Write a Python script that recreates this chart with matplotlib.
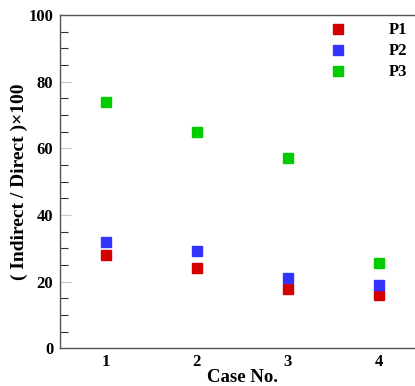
import matplotlib
matplotlib.use("Agg")
import matplotlib.pyplot as plt
from matplotlib.ticker import MultipleLocator

plt.rcParams['font.family'] = ['Liberation Serif', 'DejaVu Serif']
plt.rcParams['font.weight'] = 'bold'

cases = [1, 2, 3, 4]
p1 = [28.0, 24.0, 17.8, 16.0]
p2 = [31.8, 29.2, 21.0, 19.0]
p3 = [74.0, 64.8, 57.0, 25.5]
series_names = ["P1", "P2", "P3"]
colors = ["#d40000", "#3333ff", "#00cc00"]

fig = plt.figure(figsize=(4.15, 3.86), dpi=100)
ax = fig.add_axes([0.145, 0.098, 0.877, 0.863])

for vals, name, c in zip([p1, p2, p3], series_names, colors):
    ax.plot(cases, vals, linestyle='none', marker='s', markersize=7,
            color=c, markeredgecolor=c, label=name)

ax.set_xlim(0.5, 4.5)
ax.set_ylim(0, 100)
ax.set_xticks(cases)
ax.yaxis.set_major_locator(MultipleLocator(20))
ax.yaxis.set_minor_locator(MultipleLocator(5))
ax.tick_params(axis='x', length=0, labelsize=12, pad=4.5)
ax.tick_params(axis='y', which='major', direction='in', length=8, width=0.8,
               color='#c8c8c8', labelsize=12, pad=5)
ax.tick_params(axis='y', which='minor', direction='in', length=6, width=0.8,
               color='#333333')
for lbl in ax.get_xticklabels() + ax.get_yticklabels():
    lbl.set_fontweight('bold')

for side in ['left', 'bottom', 'top']:
    ax.spines[side].set_color('#555555')
    ax.spines[side].set_linewidth(1.0)
ax.spines['right'].set_visible(False)

ax.set_xlabel("Case No.", fontsize=13.5, fontweight='bold', labelpad=-1)
ax.set_ylabel("( Indirect / Direct )×100", fontsize=14, fontweight='bold', labelpad=0)

leg = ax.legend(loc='upper right', frameon=False, fontsize=12,
                handlelength=1.0, handletextpad=2.6, labelspacing=0.3,
                borderaxespad=0.3, bbox_to_anchor=(0.987, 1.013))
for t in leg.get_texts():
    t.set_fontweight('bold')

fig.savefig("out.png", dpi=100)
